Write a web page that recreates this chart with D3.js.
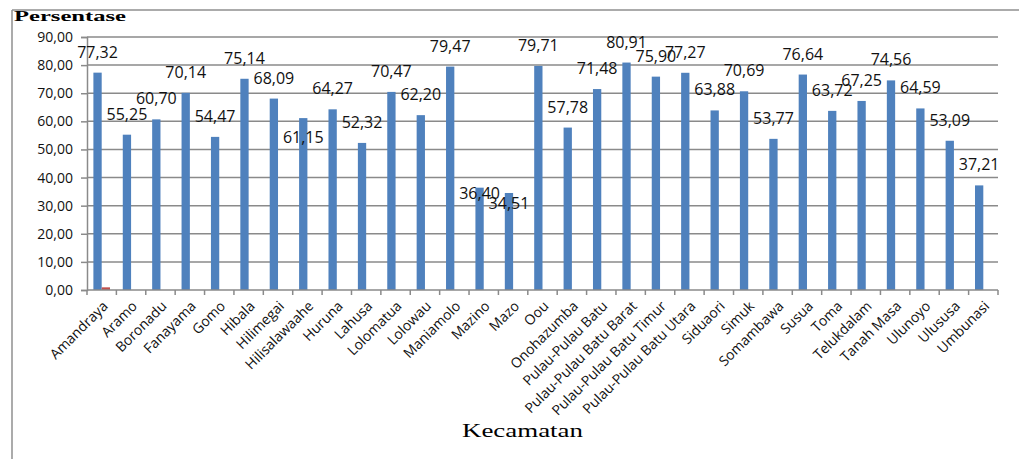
<!DOCTYPE html>
<html>
<head>
<meta charset="utf-8">
<script src="https://cdn.jsdelivr.net/npm/d3@7/dist/d3.min.js"></script>
<style>
  html, body { margin: 0; padding: 0; background: #fff; }
  svg { display: block; }
</style>
</head>
<body>
<svg id="chart" width="1019" height="459"></svg>
<script>
// Kecamatan names along the x axis
const kecamatan = [
  "Amandraya", "Aramo", "Boronadu", "Fanayama", "Gomo", "Hibala", "Hilimegai",
  "Hilisalawaahe", "Huruna", "Lahusa", "Lolomatua", "Lolowau", "Maniamolo",
  "Mazino", "Mazo", "Oou", "Onohazumba", "Pulau-Pulau Batu",
  "Pulau-Pulau Batu Barat", "Pulau-Pulau Batu Timur", "Pulau-Pulau Batu Utara",
  "Siduaori", "Simuk", "Somambawa", "Susua", "Toma", "Telukdalam", "Tanah Masa",
  "Ulunoyo", "Ulususa", "Umbunasi"
];

// Main series: percentage per kecamatan
const persentase = [
  77.32, 55.25, 60.70, 70.14, 54.47, 75.14, 68.09, 61.15, 64.27, 52.32, 70.47,
  62.20, 79.47, 36.40, 34.51, 79.71, 57.78, 71.48, 80.91, 75.90, 77.27, 63.88,
  70.69, 53.77, 76.64, 63.72, 67.25, 74.56, 64.59, 53.09, 37.21
];

// Second series: only the first kecamatan carries a (tiny) value
const seriKedua = [
  0.95, 0, 0, 0, 0, 0, 0, 0, 0, 0, 0, 0, 0, 0, 0, 0, 0, 0, 0, 0, 0, 0, 0, 0, 0,
  0, 0, 0, 0, 0, 0
];

// Y axis ticks
const yTicks = [0, 10, 20, 30, 40, 50, 60, 70, 80, 90];

// ---- layout ----
const plot = { left: 87, right: 998, top: 37, bottom: 290 };
const svg = d3.select("#chart");
const fmt = v => v.toFixed(2).replace(".", ",");

const x0 = d3.scaleBand().domain(kecamatan).range([plot.left, plot.right]).padding(0);
const step = x0.bandwidth();
const gap = step * 0.435;
const x1 = d3.scaleBand().domain(["a", "b"]).range([gap / 2, step - gap / 2]).padding(0);
const y = d3.scaleLinear().domain([0, 90]).range([plot.bottom, plot.top]);

const gridColor = "#8a8a8a";

// outer frame (left and top edges)
svg.append("line").attr("x1", 12).attr("x2", 12).attr("y1", 10).attr("y2", 459)
  .attr("stroke", "#8f8f8f").attr("stroke-width", 1.5);
svg.append("line").attr("x1", 12).attr("x2", 1019).attr("y1", 10).attr("y2", 10)
  .attr("stroke", "#8f8f8f").attr("stroke-width", 1.5);

// horizontal gridlines
svg.append("g").selectAll("line").data(yTicks.filter(t => t > 0)).join("line")
  .attr("x1", plot.left).attr("x2", plot.right)
  .attr("y1", d => y(d)).attr("y2", d => y(d))
  .attr("stroke", gridColor).attr("stroke-width", 1.5);

// y axis
const yAxis = svg.append("g")
  .attr("transform", `translate(${plot.left},0)`)
  .call(d3.axisLeft(y).tickValues(yTicks).tickFormat(fmt).tickSize(6).tickPadding(8));
yAxis.select(".domain").attr("stroke", gridColor).attr("stroke-width", 1.5);
yAxis.selectAll(".tick line").attr("stroke", gridColor).attr("stroke-width", 1.5);
yAxis.selectAll(".tick text")
  .attr("font-family", "'Open Sans', sans-serif").attr("font-size", 14).attr("fill", "#111");

// bars
const barG = svg.append("g");
barG.selectAll("rect.s1").data(kecamatan).join("rect").attr("class", "s1")
  .attr("x", (d) => x0(d) + x1("a"))
  .attr("width", x1.bandwidth())
  .attr("y", (d, i) => y(persentase[i]))
  .attr("height", (d, i) => y(0) - y(persentase[i]))
  .attr("fill", "#4f81bd");
barG.selectAll("rect.s2").data(kecamatan).join("rect").attr("class", "s2")
  .attr("x", (d) => x0(d) + x1("b"))
  .attr("width", x1.bandwidth())
  .attr("y", (d, i) => y(seriKedua[i]))
  .attr("height", (d, i) => y(0) - y(seriKedua[i]))
  .attr("fill", "#c0504d");

// x axis line and tick marks at category boundaries
svg.append("line").attr("x1", plot.left).attr("x2", plot.right)
  .attr("y1", y(0)).attr("y2", y(0)).attr("stroke", gridColor).attr("stroke-width", 1.5);
const bounds = kecamatan.map(d => x0(d)).concat([plot.right]);
svg.append("g").selectAll("line").data(bounds).join("line")
  .attr("x1", d => d).attr("x2", d => d)
  .attr("y1", y(0)).attr("y2", y(0) + 5)
  .attr("stroke", gridColor).attr("stroke-width", 1.5);

// rotated category labels
svg.append("g").selectAll("text").data(kecamatan).join("text")
  .attr("transform", d => `translate(${x0(d) + step / 2 + 7},${y(0) + 17}) rotate(-45)`)
  .attr("text-anchor", "end")
  .attr("font-family", "'Open Sans', sans-serif").attr("font-size", 14).attr("fill", "#111")
  .text(d => d);

// data labels: baseline offset from bar top (a few sit lower, over the bar)
const labelShift = { "Hilisalawaahe": 25, "Mazino": 11, "Mazo": 16 };
svg.append("g").selectAll("text").data(kecamatan).join("text")
  .attr("x", d => x0(d) + x1("a") + x1.bandwidth() / 2)
  .attr("y", (d, i) => y(persentase[i]) + (labelShift[d] !== undefined ? labelShift[d] : -15))
  .attr("text-anchor", "middle")
  .attr("font-family", "'Open Sans', sans-serif").attr("font-size", 16).attr("fill", "#111")
  .text((d, i) => fmt(persentase[i]));

// axis titles
svg.append("text").attr("x", 14).attr("y", 21)
  .attr("font-family", "'Liberation Serif', 'Times New Roman', serif")
  .attr("font-size", 14).attr("font-weight", "bold")
  .attr("textLength", 112).attr("lengthAdjust", "spacingAndGlyphs")
  .text("Persentase");
svg.append("text").attr("x", 462).attr("y", 437)
  .attr("font-family", "'Liberation Serif', 'Times New Roman', serif")
  .attr("font-size", 18)
  .attr("textLength", 121).attr("lengthAdjust", "spacingAndGlyphs")
  .text("Kecamatan");
</script>
</body>
</html>
